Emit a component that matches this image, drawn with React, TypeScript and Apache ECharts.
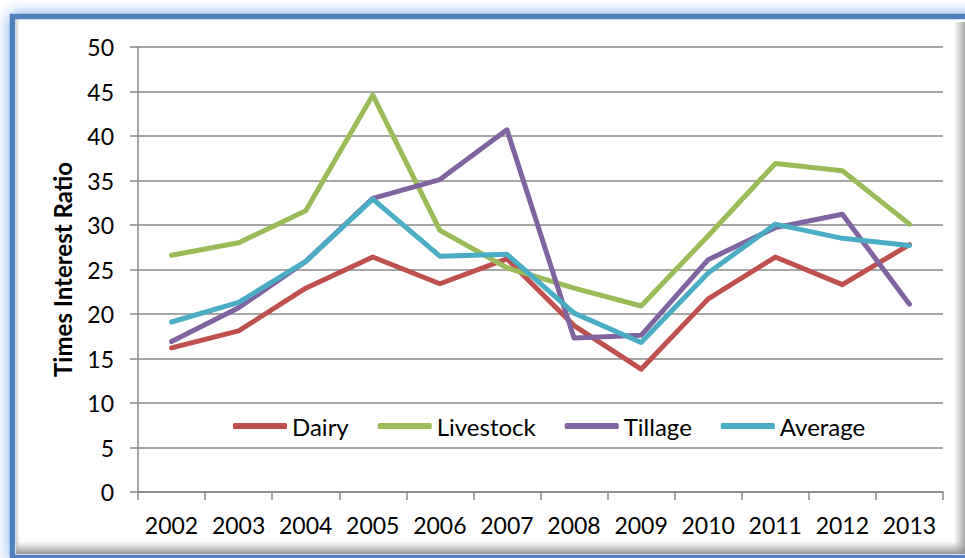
import React, { useEffect, useRef } from "react";
import * as echarts from "echarts";

const years = ["2002", "2003", "2004", "2005", "2006", "2007", "2008", "2009", "2010", "2011", "2012", "2013"];
const dairy = [16.2, 18.1, 22.9, 26.4, 23.4, 26.2, 18.7, 13.8, 21.7, 26.4, 23.3, 27.8];
const livestock = [26.6, 28.0, 31.6, 44.6, 29.4, 25.2, 22.9, 20.9, 28.8, 36.9, 36.1, 30.1];
const tillage = [16.9, 20.7, 25.9, 33.0, 35.1, 40.7, 17.3, 17.6, 26.1, 29.7, 31.2, 21.1];
const average = [19.1, 21.3, 25.9, 32.9, 26.5, 26.7, 20.1, 16.8, 24.6, 30.1, 28.5, 27.7];
const seriesNames = ["Dairy", "Livestock", "Tillage", "Average"];
const colors = ["#C0504D", "#9BBB59", "#8064A2", "#4BACC6"];

const FONT = "Lato, 'Open Sans', sans-serif";

export default function App() {
  const ref = useRef<HTMLDivElement>(null);
  useEffect(() => {
    if (!ref.current) return;
    const chart = echarts.init(ref.current, undefined, { renderer: "svg" });
    const data = [dairy, livestock, tillage, average];
    chart.setOption({
      animation: false,
      backgroundColor: "#ffffff",
      textStyle: { fontFamily: FONT },
      graphic: [
        {
          type: "rect",
          z: -10,
          silent: true,
          shape: { x: 0, y: 0, width: 965, height: 558 },
          style: { fill: "#ffffff" },
        },
        {
          type: "rect",
          z: -9,
          silent: true,
          shape: { x: 12.5, y: 16.5, width: 965, height: 541 },
          style: {
            fill: "#ffffff",
            stroke: "#4F81BD",
            lineWidth: 5.5,
            shadowBlur: 16,
            shadowColor: "rgba(120,170,235,1)",
          },
        },
        {
          type: "rect",
          z: -8,
          silent: true,
          shape: { x: 954, y: 22, width: 11, height: 532 },
          style: {
            fill: new echarts.graphic.LinearGradient(0, 0, 1, 0, [
              { offset: 0, color: "rgba(160,160,160,0)" },
              { offset: 1, color: "rgba(150,150,150,0.85)" },
            ]),
          },
        },
        {
          type: "rect",
          z: -8,
          silent: true,
          shape: { x: 16, y: 541, width: 949, height: 13 },
          style: {
            fill: new echarts.graphic.LinearGradient(0, 0, 0, 1, [
              { offset: 0, color: "rgba(160,160,160,0)" },
              { offset: 1, color: "rgba(140,140,140,0.9)" },
            ]),
          },
        },
        {
          type: "rect",
          z: -8,
          silent: true,
          shape: { x: 16, y: 19, width: 4, height: 535 },
          style: {
            fill: new echarts.graphic.LinearGradient(0, 0, 1, 0, [
              { offset: 0, color: "rgba(170,170,170,0.5)" },
              { offset: 1, color: "rgba(170,170,170,0)" },
            ]),
          },
        },
      ],
      grid: { left: 138, right: 22, top: 47, bottom: 66, containLabel: false },
      legend: {
        show: true,
        left: 228,
        top: 409,
        icon: "roundRect",
        itemWidth: 54,
        itemHeight: 6,
        itemGap: 29,
        data: seriesNames,
        textStyle: { fontFamily: FONT, fontSize: 24, color: "#000" },
      },
      xAxis: {
        type: "category",
        data: years,
        boundaryGap: true,
        axisLine: { show: true, lineStyle: { color: "#888888", width: 1.5 } },
        axisTick: { show: true, alignWithLabel: false, length: 8, lineStyle: { color: "#888888", width: 1.5 } },
        axisLabel: { fontFamily: FONT, fontSize: 23, color: "#000", margin: 21, interval: 0 },
        splitLine: { show: false },
      },
      yAxis: {
        type: "value",
        min: 0,
        max: 50,
        interval: 5,
        name: "Times Interest Ratio",
        nameLocation: "middle",
        nameRotate: 90,
        nameGap: 64,
        nameTextStyle: { fontFamily: FONT, fontSize: 24, fontWeight: "bold", color: "#000" },
        axisLine: { show: true, lineStyle: { color: "#888888", width: 1.5 } },
        axisTick: { show: true, length: 8, lineStyle: { color: "#888888", width: 1.5 } },
        axisLabel: { fontFamily: FONT, fontSize: 23, color: "#000", margin: 24 },
        splitLine: { show: true, lineStyle: { color: "#888888", width: 1.5 } },
      },
      series: seriesNames.map((name, i) => ({
        name,
        type: "line",
        data: data[i],
        symbol: "none",
        showSymbol: false,
        color: colors[i],
        lineStyle: { width: 5, color: colors[i], cap: "round", join: "round" },
        itemStyle: { color: colors[i] },
      })),
    });
    return () => chart.dispose();
  }, []);
  return (
    <div
      ref={ref}
      style={{ position: "fixed", left: 0, top: 0, width: 965, height: 558 }}
    />
  );
}
